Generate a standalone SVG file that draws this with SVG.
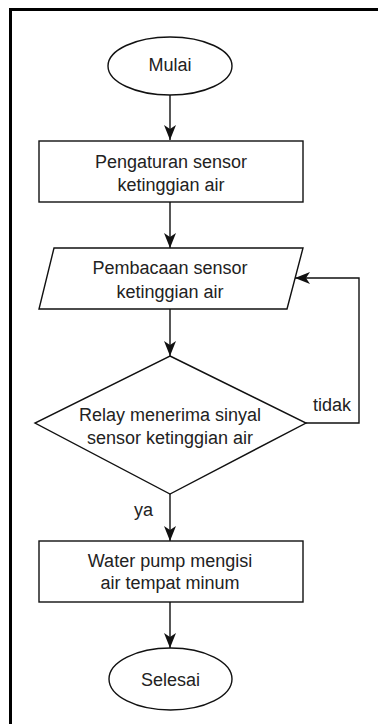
<svg xmlns="http://www.w3.org/2000/svg" width="378" height="724" viewBox="0 0 378 724">
<style>
.s{fill:#fff;stroke:#111;stroke-width:1.4}
.t{font-family:"Liberation Sans",Arial,sans-serif;font-size:18px;fill:#222;text-anchor:middle}
.c{fill:none;stroke:#111;stroke-width:1.4}
</style>
<defs>
<marker id="a" viewBox="0 0 15 12" refX="15" refY="6" markerWidth="15" markerHeight="12" markerUnits="userSpaceOnUse" orient="auto">
<path d="M0,0 L15,6 L0,12 L4,6 z" fill="#111"/>
</marker>
</defs>
<rect width="378" height="724" fill="#fff"/>
<path d="M10.5,724 L10.5,9.5 L378,9.5" fill="none" stroke="#000" stroke-width="3"/>
<g id="connectors">
<path class="c" d="M170,95 L170,140" marker-end="url(#a)"/>
<path class="c" d="M170,202 L170,248" marker-end="url(#a)"/>
<path class="c" d="M170,309 L170,356" marker-end="url(#a)"/>
<path class="c" d="M170,494 L170,541" marker-end="url(#a)"/>
<path class="c" d="M170,602 L170,648" marker-end="url(#a)"/>
<path class="c" d="M306,423 L359,423 L359,278 L295,278" marker-end="url(#a)"/>
<text class="t" x="313" y="411" style="text-anchor:start">tidak</text>
<text class="t" x="153" y="516" style="text-anchor:end">ya</text>
</g>
<g id="mulai">
<ellipse class="s" cx="170" cy="66" rx="62" ry="29"/>
<text class="t" x="170" y="71">Mulai</text>
</g>
<g id="pengaturan">
<rect class="s" x="39" y="141" width="264" height="61"/>
<text class="t" x="171" y="168">Pengaturan sensor</text>
<text class="t" x="171" y="191">ketinggian air</text>
</g>
<g id="pembacaan">
<polygon class="s" points="54,248 303,248 287,309 39,309"/>
<text class="t" x="170" y="274">Pembacaan sensor</text>
<text class="t" x="170" y="298">ketinggian air</text>
</g>
<g id="relay">
<polygon class="s" points="170,356 306,423 170,494 35,423"/>
<text class="t" x="170" y="421">Relay menerima sinyal</text>
<text class="t" x="170" y="444">sensor ketinggian air</text>
</g>
<g id="pump">
<rect class="s" x="39" y="541" width="264" height="61"/>
<text class="t" x="170" y="567">Water pump mengisi</text>
<text class="t" x="170" y="589">air tempat minum</text>
</g>
<g id="selesai">
<ellipse class="s" cx="170.5" cy="679" rx="61.5" ry="31"/>
<text class="t" x="170.5" y="686">Selesai</text>
</g>
</svg>
